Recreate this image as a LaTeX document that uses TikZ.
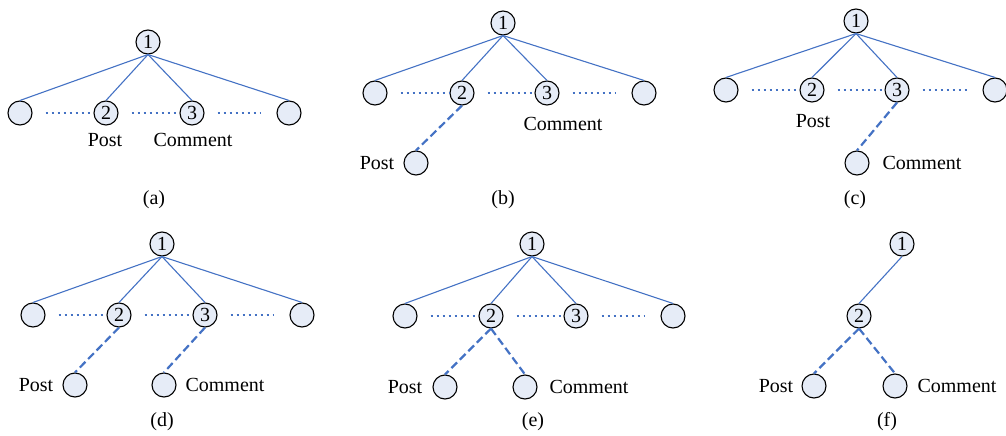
\documentclass[tikz,border=0pt]{standalone}
\usepackage{fontspec}
\setmainfont{Liberation Serif}
\definecolor{edgeblue}{HTML}{4472C4}
\definecolor{nodefill}{HTML}{E6ECF7}
\begin{document}
\begin{tikzpicture}[x=1pt,y=-1pt,
  vert/.style={circle,draw=black,line width=1.1pt,fill=nodefill,minimum size=24pt,inner sep=0pt,font=\fontsize{20}{20}\selectfont},
  lbl/.style={inner sep=0pt,font=\fontsize{20}{20}\selectfont},
  tie/.style={draw=edgeblue,line width=1.1pt},
  gap/.style={draw=edgeblue,line width=2pt,dash pattern=on 2pt off 4pt},
  link/.style={draw=edgeblue,line width=2.2pt,dash pattern=on 8pt off 4pt}]
\useasboundingbox (0,0) rectangle (1006,436);

% ---------- (a) ----------
\node[vert] (a1) at (148,42) {1};
\node[vert] (aL) at (20,113) {};
\node[vert] (a2) at (106,113) {2};
\node[vert] (a3) at (192,113) {3};
\node[vert] (aR) at (289,113) {};
\foreach \c in {aL,a2,a3,aR} \draw[tie] (a1.south) -- (\c.north);
\draw[gap] ([xshift=13pt]aL.east) -- (a2.west);
\draw[gap] ([xshift=13pt]a2.east) -- (a3.west);
\draw[gap] ([xshift=13pt]a3.east) -- ([xshift=-15pt]aR.west);
\node[lbl] (aPt) at (105,140) {Post};
\node[lbl] (aCt) at (193,140) {Comment};
\node[lbl] (acap) at (154,200) {(a)};

% ---------- (b) ----------
\node[vert] (b1) at (503,23) {1};
\node[vert] (bL) at (375,93) {};
\node[vert] (b2) at (462,93) {2};
\node[vert] (b3) at (547,93) {3};
\node[vert] (bR) at (644,93) {};
\foreach \c in {bL,b2,b3,bR} \draw[tie] (b1.south) -- (\c.north);
\draw[gap] ([xshift=13pt]bL.east) -- (b2.west);
\draw[gap] ([xshift=13pt]b2.east) -- (b3.west);
\draw[gap] ([xshift=13pt]b3.east) -- ([xshift=-15pt]bR.west);
\node[vert] (bP) at (416,163) {};
\draw[link] (b2.south) -- (bP.north);
\node[lbl] (bPt) at (377,163) {Post};
\node[lbl] (bCt) at (563,124) {Comment};
\node[lbl] (bcap) at (503,200) {(b)};

% ---------- (c) ----------
\node[vert] (c1) at (856,21) {1};
\node[vert] (cL) at (726,90) {};
\node[vert] (c2) at (812,90) {2};
\node[vert] (c3) at (897,90) {3};
\node[vert] (cR) at (995,90) {};
\foreach \c in {cL,c2,c3,cR} \draw[tie] (c1.south) -- (\c.north);
\draw[gap] ([xshift=13pt]cL.east) -- (c2.west);
\draw[gap] ([xshift=13pt]c2.east) -- (c3.west);
\draw[gap] ([xshift=13pt]c3.east) -- ([xshift=-15pt]cR.west);
\node[vert] (cC) at (857,163) {};
\draw[link] (c3.south) -- (cC.north);
\node[lbl] (cPt) at (813,121) {Post};
\node[lbl] (cCt) at (922,163) {Comment};
\node[lbl] (ccap) at (855,200) {(c)};

% ---------- (d) ----------
\node[vert] (d1) at (162,244) {1};
\node[vert] (dL) at (33,315) {};
\node[vert] (d2) at (119,315) {2};
\node[vert] (d3) at (205,315) {3};
\node[vert] (dR) at (302,315) {};
\foreach \c in {dL,d2,d3,dR} \draw[tie] (d1.south) -- (\c.north);
\draw[gap] ([xshift=13pt]dL.east) -- (d2.west);
\draw[gap] ([xshift=13pt]d2.east) -- (d3.west);
\draw[gap] ([xshift=13pt]d3.east) -- ([xshift=-15pt]dR.west);
\node[vert] (dP) at (75,385) {};
\node[vert] (dC) at (164,385) {};
\draw[link] (d2.south) -- (dP.north);
\draw[link] (d3.south) -- (dC.north);
\node[lbl] (dPt) at (36,385) {Post};
\node[lbl] (dCt) at (225,385) {Comment};
\node[lbl] (dcap) at (162,422) {(d)};

% ---------- (e) ----------
\node[vert] (e1) at (532,244) {1};
\node[vert] (eL) at (405,316) {};
\node[vert] (e2) at (491,316) {2};
\node[vert] (e3) at (576,316) {3};
\node[vert] (eR) at (673,316) {};
\foreach \c in {eL,e2,e3,eR} \draw[tie] (e1.south) -- (\c.north);
\draw[gap] ([xshift=13pt]eL.east) -- (e2.west);
\draw[gap] ([xshift=13pt]e2.east) -- (e3.west);
\draw[gap] ([xshift=13pt]e3.east) -- ([xshift=-15pt]eR.west);
\node[vert] (eP) at (445,387) {};
\node[vert] (eC) at (525,387) {};
\draw[link] (e2.south) -- (eP.north);
\draw[link] (e2.south) -- (eC.north);
\node[lbl] (ePt) at (405,387) {Post};
\node[lbl] (eCt) at (589,387) {Comment};
\node[lbl] (ecap) at (533,422) {(e)};

% ---------- (f) ----------
\node[vert] (f1) at (902,244) {1};
\node[vert] (f2) at (859,316) {2};
\draw[tie] (f1.south) -- (f2.north);
\node[vert] (fP) at (814,386) {};
\node[vert] (fC) at (895,386) {};
\draw[link] (f2.south) -- (fP.north);
\draw[link] (f2.south) -- (fC.north);
\node[lbl] (fPt) at (776,386) {Post};
\node[lbl] (fCt) at (957,386) {Comment};
\node[lbl] (fcap) at (887,422) {(f)};
\end{tikzpicture}
\end{document}
